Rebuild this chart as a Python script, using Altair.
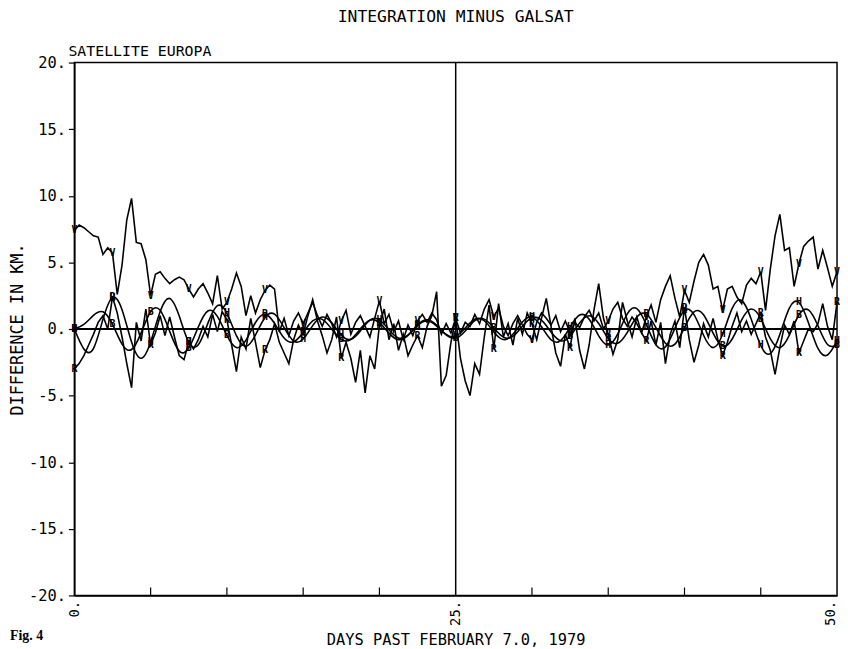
import altair as alt
import pandas as pd

TITLE = "INTEGRATION MINUS GALSAT"
SUBTITLE = "SATELLITE EUROPA"
X_TITLE = "DAYS PAST FEBRUARY 7.0, 1979"
Y_TITLE = "DIFFERENCE IN KM."
FIG_LABEL = "Fig. 4"

NOISY_STEP = 0.3125      # days between samples of the noisy curves
SMOOTH_STEP = 0.625      # days between samples of the smooth curves
MARK_EVERY = 2.5         # a letter is plotted every 2.5 days

# upper noisy curve (letter V), one row = 2.5 days
V_SERIES = [
    7.4, 7.8, 7.6, 7.3, 7.0, 6.9, 5.6, 6.1,
    5.7, 2.6, 4.8, 8.2, 9.8, 6.5, 6.4, 5.2,
    2.5, 4.1, 4.3, 3.8, 3.4, 3.7, 3.9, 3.7,
    3.0, 2.4, 3.0, 3.4, 2.7, 1.9, 4.0, 1.5,
    2.0, 3.0, 4.2, 3.2, 1.0, 2.5, 1.2, 2.2,
    2.9, 3.3, 3.0, -0.2, 0.8, -0.5, 0.6, 1.2,
    0.4, 1.2, 2.0, 1.0, 0.2, 1.1, 0.4, -0.6,
    0.6, 1.4, -0.4, 0.5, 1.0, 0.2, -0.6, 0.8,
    2.1, 0.4, 1.1, -0.2, 0.6, -0.8, 0.3, -0.5,
    0.6, 1.1, 0.5, 1.2, 0.7, -0.4, 0.4, -0.3,
    0.8, -0.3, 0.5, 0.2, 1.1, 0.4, 1.5, 2.2,
    0.9, 1.6, 0.2, -0.5, 0.4, 1.0, 0.3, -0.4,
    -0.8, 0.5, 1.2, 0.8, 0.3, 1.0, -0.2, 0.6,
    -0.3, 0.5, 0.1, 0.9, 1.4, 0.6, 1.2, 0.0,
    0.6, 1.5, 2.0, 0.8, 0.2, 0.9, 0.4, -0.3,
    0.9, 1.8, 0.5, 2.2, 3.2, 4.0, 2.3, 0.9,
    2.9, 2.0, 3.6, 5.0, 5.6, 4.8, 3.0, 3.2,
    1.4, 3.0, 3.2, 2.4, 1.9, 3.3, 3.8, 3.4,
    4.3, 1.4, 4.5, 7.0, 8.6, 5.9, 6.1, 3.2,
    4.9, 6.2, 6.6, 6.9, 4.5, 5.9, 4.6, 3.2,
    4.3,
]

# lower noisy curve (letter R)
R_SERIES = [
    -3.0, -2.6, -2.0, -1.2, -0.4, 0.5, 1.0, 0.0,
    2.4, 1.2, -0.6, -2.6, -4.4, 0.5, -0.9, 1.5,
    -1.2, -0.3, 1.0, -0.5, 0.9, -0.6, -2.0, -2.3,
    -1.0, -1.5, -0.8, 0.2, -0.6, 1.1, -0.2, 1.3,
    0.7, -1.2, -3.2, -0.6, -1.5, 0.8, -1.0, -2.9,
    -1.6, -0.8, 0.4, -1.0, -1.8, -2.6, -0.8, 0.3,
    -0.4, 1.0, 2.2, 0.6, -0.5, -1.8, -0.8, 0.9,
    -2.2, -1.0, -2.2, -4.0, -1.6, -4.8, -2.0, -3.0,
    0.3, 1.5, -0.8, 0.4, -1.6, -0.4, -2.0, -1.2,
    -0.5, -1.4, 0.2, 1.0, 2.8, -4.3, -3.5, -1.0,
    0.8, -2.2, -3.9, -5.0, -2.6, -3.4, -0.6, 1.8,
    -1.5, 1.9, -0.6, 0.4, -1.2, 0.8, -0.4, 1.2,
    0.4, -0.8, 0.8, 2.3, 0.2, -1.8, -2.8, -0.4,
    -1.4, 0.8, -1.6, -3.0, -1.2, 1.4, 3.4, 0.8,
    -0.4, -1.9, -0.8, 2.0, 0.6, -0.6, 0.9, -0.3,
    -0.9, 0.6, -1.2, 0.5, -2.6, -0.4, 0.6, -1.4,
    1.6, -0.8, -2.5, -1.2, 0.4, -0.6, 0.8, -0.8,
    -2.0, -1.0, 0.2, 1.2, -0.2, 0.6, -0.4, 0.4,
    1.2, -0.6, -1.6, -3.4, -1.4, 0.3, -0.4, 0.6,
    -1.8, -0.9, 0.0, -0.2, 0.4, 1.9, 0.2, -0.8,
    2.0,
]

# smooth oscillating curve (letter H), one row = 2.5 days
H_SERIES = [
    0.0, -1.5, -1.47, 0.73,
    2.36, 1.45, -0.98, -2.2,
    -0.97, 1.31, 2.29, 0.97,
    -1.0, -1.19, 0.42, 1.75,
    1.18, -0.5, -1.3, -0.45,
    0.87, 1.11, 0.1, -0.9,
    -0.75, 0.25, 0.9, 0.46,
    -0.46, -0.78, -0.15, 0.66,
    0.69, -0.05, -0.67, -0.45,
    0.31, 0.7, 0.29, -0.41,
    -0.55, 0.07, 0.73, 0.62,
    -0.22, -0.79, -0.4, 0.53,
    0.88, 0.17, -0.81, -0.87,
    0.15, 1.05, 0.73, -0.51,
    -1.2, -0.37, 1.14, 1.53,
    0.32, -1.18, -1.34, 0.07,
    1.4, 1.08, -0.47, -1.4,
    -0.4, 1.55, 2.14, 0.74,
    -1.24, -1.85, -0.42, 1.57,
    1.99, 0.47, -1.46, -1.95,
    -0.9,
]

# second smooth oscillating curve (letter B)
B_SERIES = [
    0.0, 0.35, 1.02, 1.29,
    0.35, -1.13, -1.54, -0.29,
    1.3, 1.4, -0.18, -1.66,
    -1.43, 0.15, 1.35, 0.95,
    -0.48, -1.39, -0.84, 0.49,
    1.1, 0.42, -0.68, -0.96,
    -0.26, 0.61, 0.72, -0.01,
    -0.79, -0.77, 0.01, 0.66,
    0.47, -0.31, -0.8, -0.48,
    0.25, 0.6, 0.22, -0.45,
    -0.69, -0.15, 0.62, 0.74,
    0.08, -0.61, -0.56, 0.21,
    0.85, 0.66, -0.23, -0.88,
    -0.54, 0.46, 1.0, 0.41,
    -0.71, -1.07, -0.25, 0.9,
    1.12, 0.11, -1.07, -1.14,
    0.11, 1.29, 1.07, -0.31,
    -1.28, -0.75, 0.69, 1.5,
    0.78, -0.73, -1.4, -0.46,
    1.05, 1.43, 0.24, -1.16,
    -1.2,
]

X_LABELED = [0, 25, 50]
X_INNER_TICKS = [5, 10, 15, 20, 30, 35, 40, 45]
Y_TICKS = [-20, -15, -10, -5, 0, 5, 10, 15, 20]
ZERO_LINE = [0]
MID_LINE = [25]

FONT = "DejaVu Sans Mono"


def frame(name, values, step, letter):
    every = round(MARK_EVERY / step)
    n = len(values)
    return pd.DataFrame({
        "series": [name] * n,
        "day": [i * step for i in range(n)],
        "value": values,
        "letter": [letter] * n,
        "marker": [i % every == 0 for i in range(n)],
    })


noisy_df = pd.concat([frame("v", V_SERIES, NOISY_STEP, "V"),
                      frame("r", R_SERIES, NOISY_STEP, "R")])
smooth_df = pd.concat([frame("h", H_SERIES, SMOOTH_STEP, "H"),
                       frame("b", B_SERIES, SMOOTH_STEP, "B")])
all_df = pd.concat([noisy_df, smooth_df])
marker_df = all_df[all_df["marker"]]

xscale = alt.Scale(domain=[0, 50], nice=False, zero=False)
yscale = alt.Scale(domain=[-20, 20], nice=False, zero=False)

x_axis = alt.Axis(values=X_LABELED, labelExpr="datum.value + '.'", labelAngle=270,
                  labelBaseline=alt.condition("datum.value == 50", alt.value("bottom"),
                                              alt.value("middle")),
                  ticks=False, grid=False, domainColor="black", domainWidth=1.5,
                  labelFont=FONT, labelFontSize=14, labelColor="black", labelPadding=5,
                  title=X_TITLE, titleFont=FONT, titleFontSize=15.5, titleFontWeight="normal",
                  titleColor="black", titlePadding=7)
y_axis = alt.Axis(values=Y_TICKS, labelExpr="datum.value + '.'", grid=False,
                  tickSize=6, tickColor="black", tickWidth=1.2,
                  domainColor="black", domainWidth=1.5,
                  labelFont=FONT, labelFontSize=15.5, labelColor="black", labelPadding=3,
                  title=Y_TITLE, titleFont=FONT, titleFontSize=17, titleFontWeight="normal",
                  titleColor="black", titlePadding=2)

X_ENC = alt.X("day:Q", scale=xscale, axis=x_axis)
Y_ENC = alt.Y("value:Q", scale=yscale, axis=y_axis)

noisy = alt.Chart(noisy_df).mark_line(color="black", strokeWidth=1.6).encode(
    x=X_ENC, y=Y_ENC, detail="series:N",
)
smooth = alt.Chart(smooth_df).mark_line(color="black", strokeWidth=1.6,
                                        interpolate="natural").encode(
    x=X_ENC, y=Y_ENC, detail="series:N",
)
markers = alt.Chart(marker_df).mark_text(font=FONT, fontSize=10, fontWeight="bold",
                                         color="black").encode(
    x=X_ENC, y=Y_ENC, text="letter:N",
)
zero_rule = alt.Chart(pd.DataFrame({"value": ZERO_LINE})).mark_rule(
    color="black", strokeWidth=1.8).encode(y=Y_ENC)
mid_rule = alt.Chart(pd.DataFrame({"day": MID_LINE})).mark_rule(
    color="black", strokeWidth=1.5).encode(x=X_ENC)
inner_ticks = alt.Chart(pd.DataFrame({"day": X_INNER_TICKS})).mark_rule(
    color="black", strokeWidth=1.2).encode(
    x=X_ENC, y=alt.value(538), y2=alt.value(530))

title = alt.Chart(pd.DataFrame({"t": [TITLE]})).mark_text(
    font=FONT, fontSize=16.5, color="black", align="center", baseline="middle").encode(
    x=alt.value(385), y=alt.value(-46), text="t:N")
subtitle = alt.Chart(pd.DataFrame({"t": [SUBTITLE]})).mark_text(
    font=FONT, fontSize=15, color="black", align="left", baseline="middle").encode(
    x=alt.value(-6), y=alt.value(-12), text="t:N")
fig = alt.Chart(pd.DataFrame({"t": [FIG_LABEL]})).mark_text(
    font="Liberation Serif", fontSize=14, fontWeight="bold", color="black",
    align="left", baseline="bottom").encode(
    x=alt.value(-65), y=alt.value(586), text="t:N")

chart = alt.layer(noisy, smooth, zero_rule, mid_rule, inner_ticks, markers,
                  title, subtitle, fig).properties(
    width=770, height=538,
    autosize=alt.AutoSizeParams(type="none"),
    padding={"left": 67, "top": 52, "right": 3, "bottom": 52},
).configure_view(stroke="black", strokeWidth=1.5)

chart.save("out.html", embed_options={"renderer": "svg", "actions": False})
